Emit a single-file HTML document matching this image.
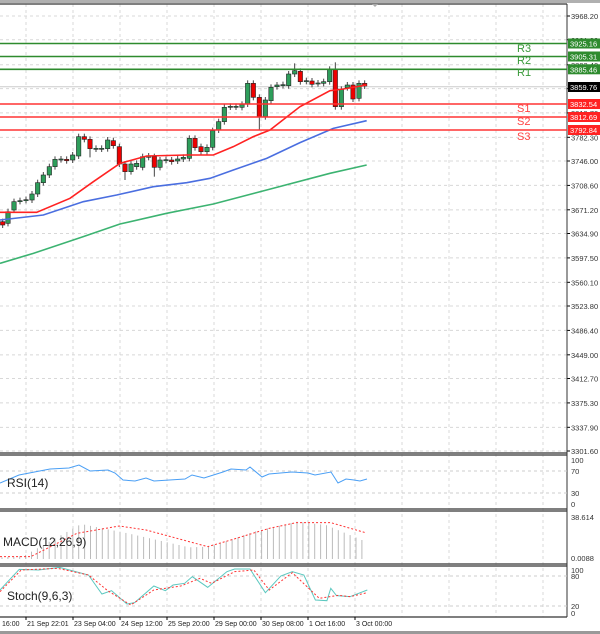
<!DOCTYPE html>
<html><head><meta charset="utf-8"><style>
html,body{margin:0;padding:0;background:#fff;width:600px;height:634px;overflow:hidden}
svg{display:block}
text{font-family:"Liberation Sans",sans-serif}
</style></head><body>
<svg id="s" width="600" height="634" xmlns="http://www.w3.org/2000/svg"></svg>
<script>
const s=document.getElementById('s');let h='';
const AX=567;
function Y(p){return 16+(3968.2-p)/1.5324;}
h+='<rect x="0" y="0" width="600" height="634" fill="#fff"/>';
h+='<rect x="0" y="0" width="600" height="3" fill="#b0b0b0"/>';
for(let x=26;x<AX;x+=47)h+=`<line x1="${x}" y1="4" x2="${x}" y2="617" stroke="#d8d8d8" stroke-dasharray="3,3"/>`;
const labs=[3968.2,3931.8,3893.4,3857.0,3819.7,3782.3,3746.0,3708.6,3671.2,3634.9,3597.5,3560.1,3523.8,3486.4,3449.0,3412.7,3375.3,3337.9,3301.6];
labs.forEach(p=>{const y=Y(p);h+=`<line x1="0" y1="${y}" x2="${AX}" y2="${y}" stroke="#d8d8d8" stroke-dasharray="3,3"/><line x1="${AX}" y1="${y}" x2="${AX+3}" y2="${y}" stroke="#000"/><text x="571" y="${y+3}" font-size="7.5" fill="#333">${p.toFixed(2)}</text>`;});
[[4,453],[455,509],[511,564],[566,617]].forEach(([a,b])=>{h+=`<line x1="0" y1="${a}" x2="${AX}" y2="${a}" stroke="#555" stroke-width="1.5"/><line x1="0" y1="${b}" x2="${AX}" y2="${b}" stroke="#555" stroke-width="1.5"/>`;});
h+=`<line x1="${AX}" y1="4" x2="${AX}" y2="617" stroke="#333"/>`;
h+=`<line x1="0" y1="86.8" x2="${AX}" y2="86.8" stroke="#ccc"/>`;
const c=[[8,515,525,0],[24,485,520,1],[42,455,480,1],[60,452,454,1],[78,449,451,1],[96,432,450,1],[113,398,432,1],[130,375,398,1],[148,350,375,1],[165,328,350,1],[183,327,329,1],[200,328,332,0],[218,315,330,1],[236,260,318,1],[253,260,268,0],[270,268,296,0],[288,295,297,1],[305,295,297,1],[323,270,296,1],[340,272,287,0],[358,290,342,0],[375,342,365,0],[393,342,365,1],[410,340,350,1],[428,320,352,1],[446,318,322,1],[463,320,352,0],[480,330,352,1],[498,329,331,1],[515,330,335,0],[533,327,333,1],[550,322,327,1],[568,265,325,1],[585,265,293,0],[603,290,305,0],[621,292,305,1],[638,242,292,1],[656,215,240,1],[673,172,215,1],[691,169,171,1],[708,169,171,1],[726,163,172,1],[743,100,162,1],[760,100,142,0],[778,142,200,0],[796,150,200,1],[813,112,152,1],[831,105,110,1],[849,104,106,1],[866,72,107,1],[884,62,72,1],[901,64,95,0],[919,92,94,1],[936,93,103,0],[954,99,101,1],[971,95,100,1],[989,58,95,1],[1006,58,170,0],[1024,118,170,1],[1042,105,113,1],[1059,105,147,0],[1077,100,145,1],[1094,100,108,0]];
const hi={[884]:40,[1006]:37,[778]:240,[463]:380,[375]:390,[270]:322};
c.forEach(([x,a,b,g])=>{const X=x/3,t=a/3+50,bt=b/3+50;const wt=(hi[x]&&hi[x]<a?hi[x]/3+50:t-3),wb=(hi[x]&&hi[x]>b?hi[x]/3+50:bt+3);
h+=`<line x1="${X}" y1="${wt}" x2="${X}" y2="${wb}" stroke="#444"/>`;
h+=`<rect x="${X-2.2}" y="${t}" width="4.4" height="${Math.max(bt-t,1)}" fill="${g?'#2e9e5b':'#e00'}" stroke="#222" stroke-width="0.6"/>`;});
function pl(pts,col,w,f,extra){return `<polyline fill="none" stroke="${col}" stroke-width="${w}" ${extra||''} points="${pts.map(p=>f(p).join(',')).join(' ')}"/>`;}
const z3=p=>[p[0]/3,p[1]/3+50];
h+=pl([[0,487],[110,487],[210,445],[280,395],[360,340],[440,318],[560,315],[640,315],[700,290],[760,260],[810,240],[900,170],[990,122],[1030,117],[1100,105]],'#f22',1.6,z3);
h+=pl([[0,510],[130,495],[250,455],[350,435],[460,410],[560,398],[630,385],[700,360],[800,325],[900,278],[1000,235],[1100,212]],'#4a6ee0',1.6,z3);
h+=pl([[0,640],[100,610],[250,560],[360,522],[500,490],[640,462],[800,420],[990,370],[1100,345]],'#3cb371',1.6,z3);
const lv=[[43.5,'#2e8b2e','3925.16','R3',52],[56.5,'#2e8b2e','3905.31','R2',64],[69.3,'#2e8b2e','3885.46','R1',76],[104,'#f33','3832.54','S1',112],[117,'#f33','3812.69','S2',125],[130,'#f33','3792.84','S3',140]];
lv.forEach(([y,col,v,n,ty])=>{h+=`<line x1="0" y1="${y}" x2="${AX}" y2="${y}" stroke="${col}" stroke-width="1.6"/><rect x="568" y="${y-5}" width="32" height="10" fill="${col==='#f33'?'#f22':'#2e8b2e'}"/><text x="570" y="${y+3}" font-size="7.5" fill="#fff">${v}</text><text x="517" y="${ty}" font-size="11" fill="${col==='#f33'?'#f44':'#3a9a3a'}">${n}</text>`;});
h+=`<rect x="568" y="82" width="32" height="10" fill="#000"/><text x="570" y="90" font-size="7.5" fill="#fff">3859.76</text>`;
h+=`<path d="M372 4 L378 4 L375 7Z" fill="#aaa"/>`;
[[460,'100'],[471,'70'],[493,'30'],[504,'0']].forEach(([y,t])=>{if(t!=='100'&&t!=='0')h+=`<line x1="0" y1="${y}" x2="${AX}" y2="${y}" stroke="#ccc" stroke-dasharray="3,3"/>`;h+=`<text x="571" y="${y+3}" font-size="7.5" fill="#333">${t}</text>`;});
h+=`<polyline fill="none" stroke="#4a9ff5" stroke-width="1" points="0,483 19,475 50,469 69,468 79,465 90,471 108,470 115,473 123,480 135,481 146,478 154,481 185,479 192,475 204,478 223,472 231,469 246,470 250,467 262,477 269,474 292,472 308,473 315,475 331,472 338,483 346,479 354,480 360,481 367,479"/>`;
h+=`<text x="7" y="487" font-size="12" fill="#222">RSI(14)</text>`;
const z2=p=>[p[0]/2.6,p[1]/3+450];
for(let i=0;i<62;i++){const x=2+i*5.9;let v;const t=i/61;
const k=[[0,322],[0.06,318],[0.22,222],[0.35,250],[0.52,292],[0.58,290],[0.7,245],[0.82,215],[0.9,225],[1,270]];
for(let j=1;j<k.length;j++)if(t<=k[j][0]){const f=(t-k[j-1][0])/(k[j][0]-k[j-1][0]);v=k[j-1][1]+f*(k[j][1]-k[j-1][1]);break;}
const y=v/3+450;h+=`<line x1="${x}" y1="${y}" x2="${x}" y2="559" stroke="#bbb" stroke-width="1"/>`;}
h+=pl([[0,320],[80,320],[200,250],[310,228],[380,240],[540,290],[600,270],[700,235],[770,218],[860,218],[950,248]],'#f33',1,z2,'stroke-dasharray="2,2"');
h+=`<text x="571" y="520" font-size="7.5" fill="#333">38.614</text><text x="571" y="561" font-size="7.5" fill="#333">0.0088</text>`;
h+=`<text x="3" y="546" font-size="12" fill="#222">MACD(12,26,9)</text>`;
[[570,'100'],[576,'80'],[606,'20'],[613,'0']].forEach(([y,t])=>{if(t==='80'||t==='20')h+=`<line x1="0" y1="${y}" x2="${AX}" y2="${y}" stroke="#ccc" stroke-dasharray="3,3"/>`;h+=`<text x="571" y="${y+3}" font-size="7.5" fill="#333">${t}</text>`;});
h+=pl([[0,420],[50,358],[100,360],[155,352],[230,375],[265,432],[290,422],[330,462],[350,458],[400,408],[430,422],[450,405],[480,400],[500,380],[540,412],[590,365],[610,357],[650,357],[690,428],[730,378],[760,365],[790,375],[820,450],[850,452],[860,415],[875,437],[910,440],[955,420]],'#5cc8c0',1,z2);
h+=pl([[0,425],[55,360],[150,355],[230,375],[280,422],[340,465],[400,420],[470,408],[520,385],[550,400],[610,365],[660,360],[700,420],[760,368],[830,445],[880,436],[910,440],[955,428]],'#f33',1,z2,'stroke-dasharray="2,2"');
h+=`<text x="7" y="600" font-size="12" fill="#222">Stoch(9,6,3)</text>`;
const tl=['16:00','21 Sep 22:01','23 Sep 04:00','24 Sep 12:00','25 Sep 20:00','29 Sep 00:00','30 Sep 08:00','1 Oct 16:00','3 Oct 00:00'];
tl.forEach((t,i)=>{const x=i===0?2:26+(i-1)*47;if(i>0)h+=`<line x1="${x}" y1="617" x2="${x}" y2="620" stroke="#000"/>`;h+=`<text x="${x+(i?1:0)}" y="626" font-size="7" fill="#222">${t}</text>`;});
h+=`<rect x="0" y="631" width="600" height="3" fill="#999"/>`;
s.innerHTML=h;
</script>
</body></html>
